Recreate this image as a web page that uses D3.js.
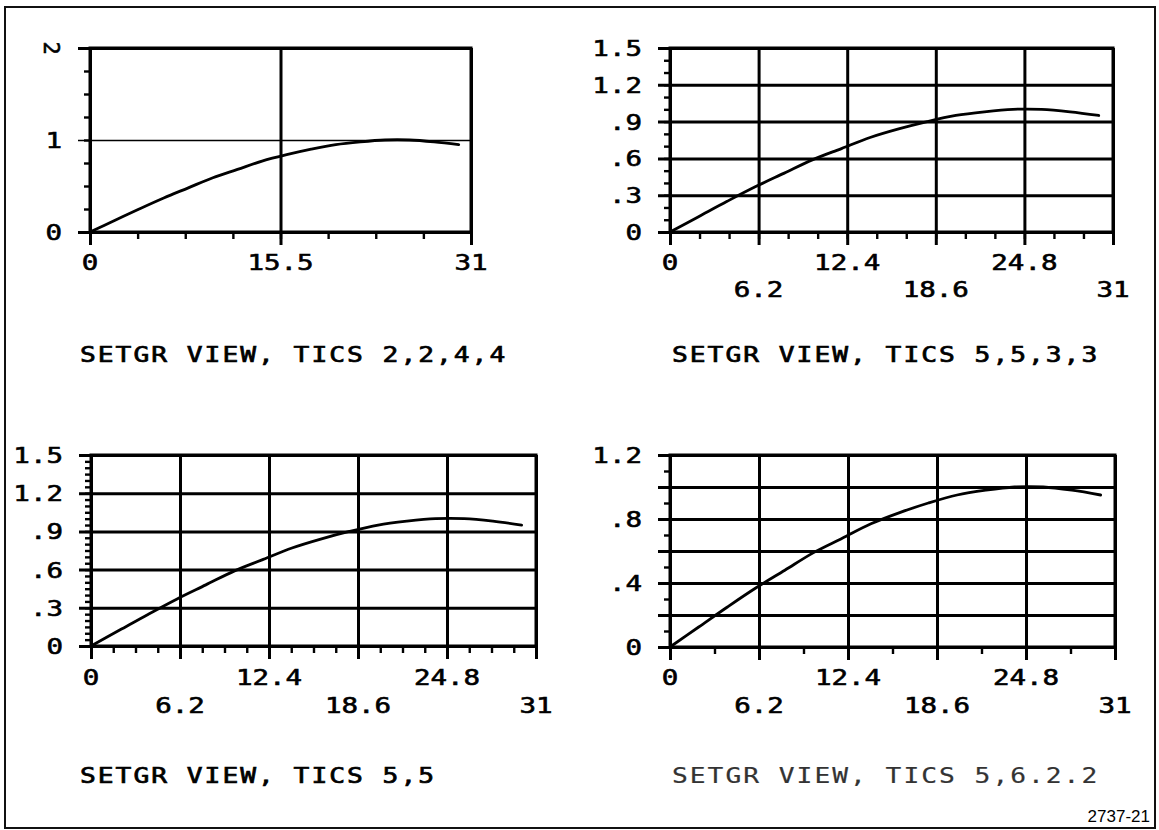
<!DOCTYPE html>
<html>
<head>
<meta charset="utf-8">
<script src="https://cdn.jsdelivr.net/npm/d3@7"></script>
<style>
  body { margin: 0; background: #fff; }
  svg { display: block; }
</style>
</head>
<body>
<div id="chart"></div>
<script>
const WIDTH = 1159;
const HEIGHT = 830;
const X_MAX = 31;

// the same curve is drawn in all four views
const curveX = [0, 2, 4, 6, 8, 10, 12, 14, 16, 18, 20, 22, 24, 26, 28, 30];
const curveY = [0, 0.125, 0.25, 0.37, 0.48, 0.59, 0.68, 0.77, 0.84, 0.90, 0.95, 0.98, 1.0, 1.0, 0.98, 0.95];

// one entry per view: top-left, top-right, bottom-left, bottom-right
const captions = ['SETGR VIEW, TICS 2,2,4,4', 'SETGR VIEW, TICS 5,5,3,3', 'SETGR VIEW, TICS 5,5', 'SETGR VIEW, TICS 5,6.2.2'];
const yMaxes = [2, 1.5, 1.5, 1.2];
const xMajors = [2, 5, 5, 5];
const yMajors = [2, 5, 5, 6];
const xMinors = [4, 3, 4, 2];
const yMinors = [4, 3, 6, 2];
const xLabelValues = [
  [0, 15.5, 31],
  [0, 6.2, 12.4, 18.6, 24.8, 31],
  [0, 6.2, 12.4, 18.6, 24.8, 31],
  [0, 6.2, 12.4, 18.6, 24.8, 31]
];
const xLabelTexts = [
  ['0', '15.5', '31'],
  ['0', '6.2', '12.4', '18.6', '24.8', '31'],
  ['0', '6.2', '12.4', '18.6', '24.8', '31'],
  ['0', '6.2', '12.4', '18.6', '24.8', '31']
];
const yLabelValues = [
  [0, 1, 2],
  [0, 0.3, 0.6, 0.9, 1.2, 1.5],
  [0, 0.3, 0.6, 0.9, 1.2, 1.5],
  [0, 0.4, 0.8, 1.2]
];
const yLabelTexts = [
  ['0', '1', '2'],
  ['0', '.3', '.6', '.9', '1.2', '1.5'],
  ['0', '.3', '.6', '.9', '1.2', '1.5'],
  ['0', '.4', '.8', '1.2']
];

// plot boxes on the page
const boxes = [
  { x0: 90, x1: 471, y0: 48, y1: 232, cap: [80, 362], row1: 270, row2: 270 },
  { x0: 670, x1: 1113, y0: 48, y1: 232, cap: [672, 362], row1: 270, row2: 297 },
  { x0: 91, x1: 536, y0: 455, y1: 646, cap: [80, 783], row1: 685, row2: 713 },
  { x0: 670, x1: 1115, y0: 455, y1: 647, cap: [672, 783], row1: 685, row2: 713 }
];

const FONT = '"DejaVu Sans Mono", "Liberation Mono", monospace';

const svg = d3.select('#chart').append('svg')
  .attr('width', WIDTH)
  .attr('height', HEIGHT)
  .attr('viewBox', [0, 0, WIDTH, HEIGHT]);

svg.append('rect')
  .attr('x', 5).attr('y', 7)
  .attr('width', 1150).attr('height', 821)
  .attr('fill', 'none')
  .attr('stroke', '#111')
  .attr('stroke-width', 2);

// plotter-style lettering: wide, evenly spaced glyphs with a pen-width outline
function tekText(g, x, y, str, anchor, size, spacing, ink) {
  const c = ink || '#000';
  return g.append('text')
    .attr('transform', `translate(${x},${y}) scale(1.25,1)`)
    .attr('text-anchor', anchor)
    .attr('font-family', FONT)
    .attr('font-size', size)
    .attr('letter-spacing', spacing)
    .attr('fill', c)
    .attr('stroke', c)
    .attr('stroke-width', 0.6)
    .text(str);
}

const points = curveX.map((x, i) => [x, curveY[i]]);

boxes.forEach((b, p) => {
  const g = svg.append('g');
  const x = d3.scaleLinear().domain([0, X_MAX]).range([b.x0, b.x1]);
  const y = d3.scaleLinear().domain([0, yMaxes[p]]).range([b.y1, b.y0]);
  const h = b.y1 - b.y0;
  const w = b.x1 - b.x0;

  const xMaj = d3.range(xMajors[p] + 1).map(i => i * X_MAX / xMajors[p]);
  const yMaj = d3.range(yMajors[p] + 1).map(i => i * yMaxes[p] / yMajors[p]);
  const xMin = d3.range(xMajors[p] * xMinors[p] + 1).map(i => i * X_MAX / (xMajors[p] * xMinors[p]));
  const yMin = d3.range(yMajors[p] * yMinors[p] + 1).map(i => i * yMaxes[p] / (yMajors[p] * yMinors[p]));

  // minor ticks
  g.append('g')
    .attr('transform', `translate(0,${b.y1})`)
    .call(d3.axisBottom(x).tickValues(xMin).tickSize(7).tickFormat(''));
  g.append('g')
    .attr('transform', `translate(${b.x0},0)`)
    .call(d3.axisLeft(y).tickValues(yMin).tickSize(6).tickFormat(''));

  // grid lines running through the frame and out as major ticks
  g.append('g')
    .attr('class', 'grid-x')
    .attr('transform', `translate(0,${b.y1 + 13})`)
    .call(d3.axisBottom(x).tickValues(xMaj).tickSize(-(h + 13)).tickFormat(''));
  g.append('g')
    .attr('class', 'grid-y')
    .attr('transform', `translate(${b.x0 - 12},0)`)
    .call(d3.axisLeft(y).tickValues(yMaj).tickSize(-(w + 12)).tickFormat(''));

  g.selectAll('.domain').remove();
  g.selectAll('.tick line').attr('stroke', '#000').attr('stroke-width', 2.4);
  g.selectAll('.grid-x .tick line, .grid-y .tick line').attr('stroke-width', 3);
  if (p === 0) {
    g.selectAll('.grid-y .tick line').attr('stroke-width', 1.7);
    g.selectAll('.grid-y .tick line').filter(d => d === 0 || d === yMaxes[0]).attr('stroke-width', 3);
  }

  // frame
  g.append('rect')
    .attr('x', b.x0).attr('y', b.y0)
    .attr('width', w).attr('height', h)
    .attr('fill', 'none')
    .attr('stroke', '#000')
    .attr('stroke-width', 3);

  // curve
  g.append('path')
    .datum(points)
    .attr('fill', 'none')
    .attr('stroke', '#000')
    .attr('stroke-width', 2.8)
    .attr('stroke-linejoin', 'round')
    .attr('stroke-linecap', 'round')
    .attr('d', d3.line().x(d => x(d[0])).y(d => y(d[1])).curve(d3.curveCatmullRom));

  // y labels (the top "2" of the first view came out turned on its side)
  yLabelValues[p].forEach((v, i) => {
    if (p === 0 && v === 2) {
      tekText(g, 0, 0, yLabelTexts[p][i], 'middle', 22, 0)
        .attr('transform', `translate(${b.x0 - 38},${y(v)}) rotate(90) translate(0,8)`);
    } else {
      tekText(g, b.x0 - 28, y(v) + 8, yLabelTexts[p][i], 'end', 22, 0);
    }
  });

  // x labels, alternating rows when there are many
  xLabelValues[p].forEach((v, i) => {
    const row = (i % 2 === 0) ? b.row1 : b.row2;
    tekText(g, x(v), row, xLabelTexts[p][i], 'middle', 22, 0);
  });

  tekText(svg, b.cap[0], b.cap[1], captions[p], 'start', 21, 1.6, p === 3 ? '#333' : '#000')
    .attr('stroke-width', p === 3 ? 0.2 : 0.7);
});

svg.append('text')
  .attr('x', 1150).attr('y', 822)
  .attr('text-anchor', 'end')
  .attr('font-family', '"Liberation Sans Narrow", "Liberation Sans", Arial, sans-serif')
  .attr('font-size', 17)
  .attr('fill', '#000')
  .text('2737-21');
</script>
</body>
</html>
